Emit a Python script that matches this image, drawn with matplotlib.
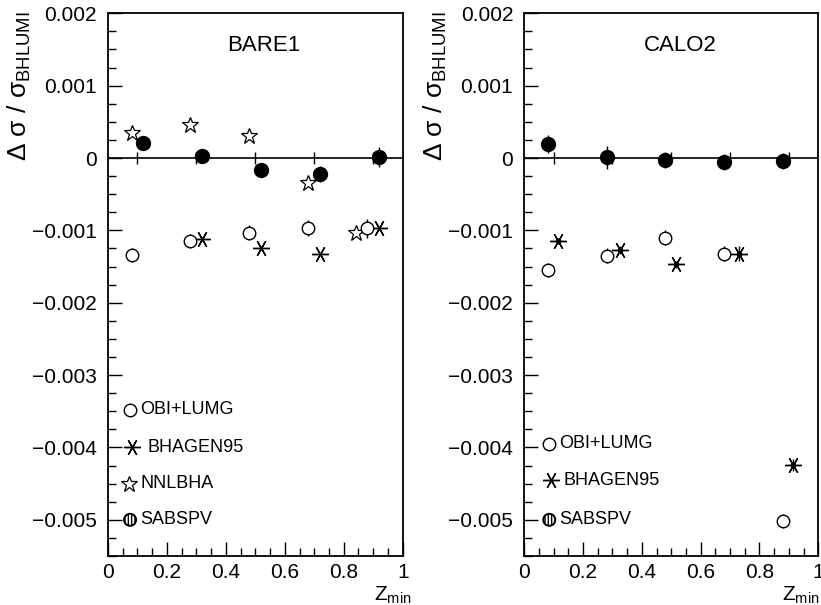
import matplotlib
matplotlib.use("Agg")
import matplotlib.pyplot as plt
from matplotlib.patches import Circle
from matplotlib.transforms import ScaledTranslation
from matplotlib.ticker import MultipleLocator, FuncFormatter

plt.rcParams['font.family'] = ['Liberation Sans', 'DejaVu Sans']
plt.rcParams['mathtext.fontset'] = 'custom'
plt.rcParams['mathtext.rm'] = 'Liberation Sans'
plt.rcParams['mathtext.it'] = 'Liberation Sans'
plt.rcParams['hatch.linewidth'] = 1.0

# BARE1 panel
b_sab_x = [0.12, 0.32, 0.52, 0.72, 0.92]
b_sab_y = [0.00021, 0.00003, -0.000165, -0.00022, 0.00001]
b_sab_e = [0.0001, 0.00008, 0.00006, 0.00011, 0.00014]
b_obi_x = [0.08, 0.28, 0.48, 0.68, 0.88]
b_obi_y = [-0.00134, -0.00115, -0.00103, -0.00097, -0.00097]
b_obi_e = [0.0001, 0.0001, 0.0001, 0.00011, 0.00013]
b_bha_x = [0.32, 0.52, 0.72, 0.92]
b_bha_y = [-0.00112, -0.00125, -0.00132, -0.00097]
b_nnl_x = [0.08, 0.28, 0.48, 0.68, 0.84]
b_nnl_y = [0.00034, 0.00046, 0.00031, -0.00034, -0.00103]

# CALO2 panel
c_sab_x = [0.08, 0.28, 0.48, 0.68, 0.88]
c_sab_y = [0.0002, 0.00001, -0.000025, -0.00005, -0.000035]
c_sab_e = [0.000125, 0.00016, 0.00011, 0.00011, 0.00011]
c_obi_x = [0.08, 0.28, 0.48, 0.68, 0.88]
c_obi_y = [-0.00155, -0.00135, -0.0011, -0.00132, -0.00502]
c_obi_e = [0.0001, 0.0001, 0.0001, 0.0001, 0.0001]
c_bha_x = [0.115, 0.325, 0.515, 0.73, 0.915]
c_bha_y = [-0.00115, -0.00127, -0.00147, -0.00132, -0.00424]
c_bha_e = [0.00004, 0.00005, 0.00005, 0.0001, 0.00008]

zero_ticks = [0.1, 0.3, 0.5, 0.7, 0.9]

star = (6, 2, 90)


def ylab(v, pos):
    if abs(v) < 1e-12:
        return '0'
    s = '%.3f' % v
    return s.replace('-', '\u2212')


def xlab(v, pos):
    if abs(v) < 1e-12:
        return '0'
    if abs(v - 1) < 1e-12:
        return '1'
    return '%.1f' % v


def hatched(ax, x, y):
    tr = ax.figure.dpi_scale_trans + ScaledTranslation(x, y, ax.transData)
    c = Circle((0, 0), 0.06, transform=tr, facecolor='white',
               edgecolor='black', hatch='|||||', lw=1.4, clip_on=False)
    ax.add_patch(c)


def frame(ax, title, zx):
    ax.set_xlim(0, 1)
    ax.set_ylim(-0.0055, 0.002)
    ax.xaxis.set_major_locator(MultipleLocator(0.2))
    ax.xaxis.set_minor_locator(MultipleLocator(0.05))
    ax.yaxis.set_major_locator(MultipleLocator(0.001))
    ax.yaxis.set_minor_locator(MultipleLocator(0.00025))
    ax.yaxis.set_major_formatter(FuncFormatter(ylab))
    ax.xaxis.set_major_formatter(FuncFormatter(xlab))
    ax.tick_params(which='both', direction='in', top=False, right=False,
                   labelsize=15, width=1, color='black')
    ax.tick_params(which='major', length=10)
    ax.tick_params(axis='x', which='major', pad=5)
    ax.tick_params(axis='y', which='major', pad=8)
    ax.tick_params(which='minor', length=6)
    for s in ax.spines.values():
        s.set_linewidth(1.3)
    ax.axhline(0, color='black', lw=1.2, zorder=1)
    ax.plot(zero_ticks, [0] * len(zero_ticks), ls='none', marker='|',
            ms=8, mew=1, color='black', zorder=1)
    ax.text(0.53, 0.00155, title, fontsize=16, ha='center', va='center')
    ax.set_ylabel(r'$\Delta\ \sigma\ /\ \sigma_{\rm BHLUMI}$', fontsize=19)
    ax.yaxis.set_label_coords(-0.255, 0.865)
    ax.text(zx, -0.082, r'Z$_{\rm min}$', transform=ax.transAxes,
            fontsize=15, ha='right', va='baseline')


fig = plt.figure(figsize=(8.21, 6.05), dpi=100)
ax1 = fig.add_axes([0.1315, 0.081, 0.359, 0.897])
ax2 = fig.add_axes([0.6386, 0.081, 0.358, 0.897])

# left panel
frame(ax1, 'BARE1', 1.03)
ax1.errorbar(b_obi_x, b_obi_y, yerr=b_obi_e, fmt='o', ms=9, mfc='white',
             mec='black', mew=1, ecolor='black', elinewidth=1, zorder=3)
ax1.plot(b_bha_x, b_bha_y, ls='none', marker=star, ms=12, mew=1,
         color='black', zorder=3)
ax1.plot(b_nnl_x, b_nnl_y, ls='none', marker='*', ms=12, mfc='white',
         mec='black', mew=0.9, zorder=3)
ax1.errorbar(b_sab_x, b_sab_y, yerr=b_sab_e, fmt='o', ms=10, color='black',
             elinewidth=1, zorder=4)

ax1.plot([0.075], [-0.00348], marker='o', ms=9, mfc='white', mec='black', mew=1)
ax1.text(0.11, -0.00348, 'OBI+LUMG', fontsize=13, va='center')
ax1.plot([0.08], [-0.0040], marker=star, ms=12, mew=1, color='black')
ax1.text(0.135, -0.0040, 'BHAGEN95', fontsize=13, va='center')
ax1.plot([0.07], [-0.0045], marker='*', ms=12, mfc='white', mec='black', mew=0.9)
ax1.text(0.11, -0.0045, 'NNLBHA', fontsize=13, va='center')
hatched(ax1, 0.075, -0.0050)
ax1.text(0.11, -0.0050, 'SABSPV', fontsize=13, va='center')

# right panel
frame(ax2, 'CALO2', 1.005)
ax2.errorbar(c_obi_x, c_obi_y, yerr=c_obi_e, fmt='o', ms=9, mfc='white',
             mec='black', mew=1, ecolor='black', elinewidth=1, zorder=3)
ax2.errorbar(c_bha_x, c_bha_y, yerr=c_bha_e, fmt='none', ecolor='black',
             elinewidth=1, zorder=3)
ax2.plot(c_bha_x, c_bha_y, ls='none', marker=star, ms=12, mew=1,
         color='black', zorder=3)
ax2.plot(c_bha_x, c_bha_y, ls='none', marker='o', ms=3, color='black',
         zorder=3)
ax2.errorbar(c_sab_x, c_sab_y, yerr=c_sab_e, fmt='o', ms=10, color='black',
             elinewidth=1, zorder=4)

ax2.plot([0.085], [-0.00395], marker='o', ms=9, mfc='white', mec='black', mew=1)
ax2.text(0.12, -0.00395, 'OBI+LUMG', fontsize=13, va='center')
ax2.plot([0.09], [-0.00445], marker=star, ms=12, mew=1, color='black')
ax2.text(0.135, -0.00445, 'BHAGEN95', fontsize=13, va='center')
hatched(ax2, 0.085, -0.0050)
ax2.text(0.12, -0.0050, 'SABSPV', fontsize=13, va='center')

fig.savefig('out.png', dpi=100)
